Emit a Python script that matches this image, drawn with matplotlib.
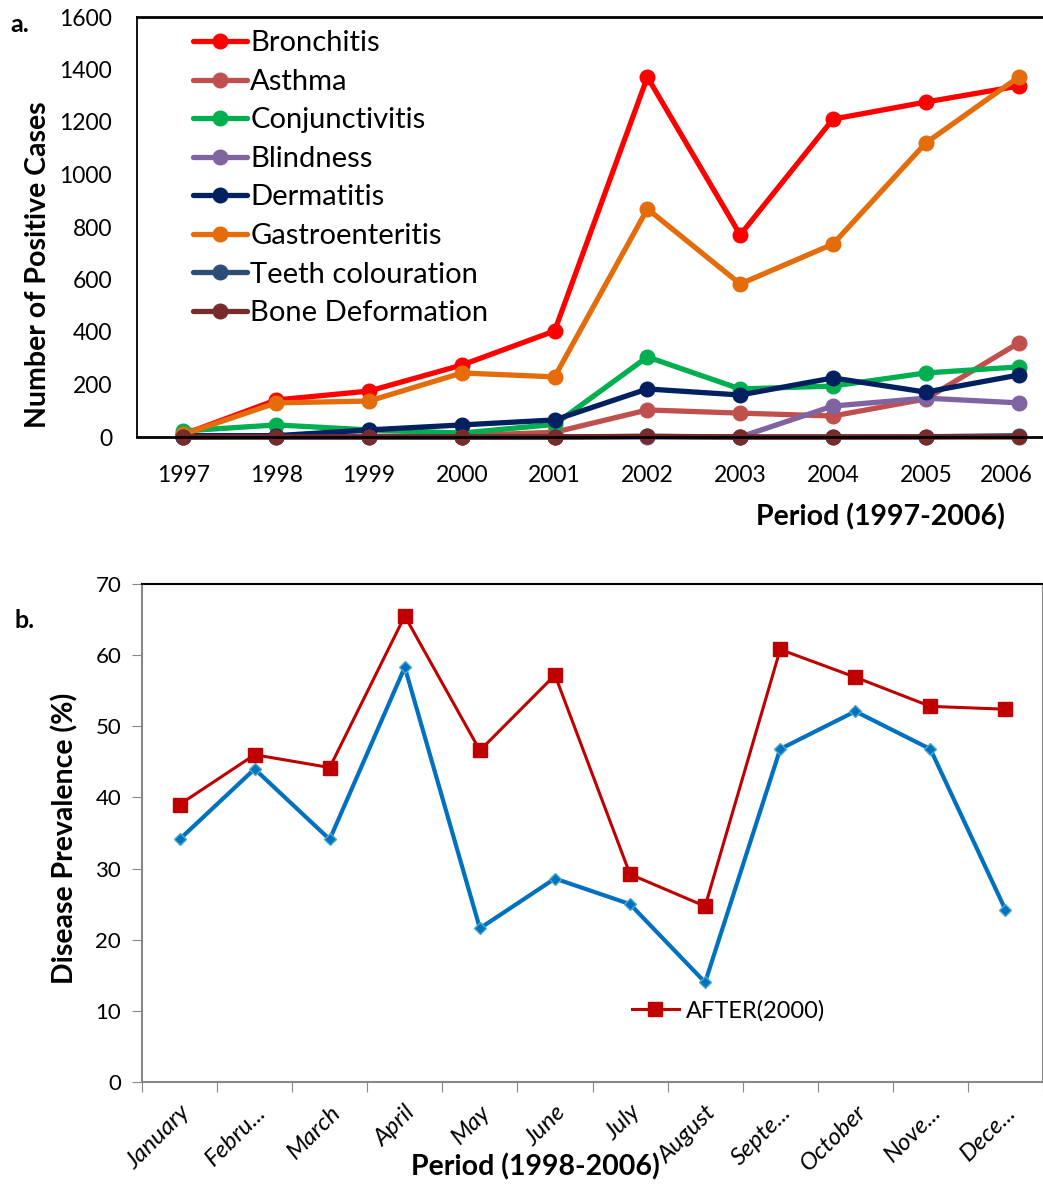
import matplotlib
matplotlib.use('Agg')
from matplotlib import pyplot as plt
from matplotlib.transforms import ScaledTranslation

plt.rcParams['font.family'] = ['Lato', 'DejaVu Sans']

# panel a: yearly positive cases per disease
years = ['1997', '1998', '1999', '2000', '2001', '2002', '2003', '2004', '2005', '2006']
diseases = ['Bronchitis', 'Asthma', 'Conjunctivitis', 'Blindness', 'Dermatitis',
            'Gastroenteritis', 'Teeth colouration', 'Bone Deformation']
bronchitis = [10, 141, 175, 274, 404, 1371, 770, 1211, 1276, 1337]
asthma = [2, 3, 3, 5, 18, 103, 91, 80, 145, 358]
conjunctivitis = [23, 46, 27, 15, 48, 305, 183, 194, 244, 267]
blindness = [0, 5, 2, 0, 0, 0, 0, 118, 148, 130]
dermatitis = [5, 5, 27, 46, 65, 183, 160, 225, 171, 236]
gastroenteritis = [10, 130, 137, 244, 229, 869, 583, 735, 1120, 1371]
teeth = [0, 0, 0, 0, 0, 2, 0, 0, 1, 5]
bone = [0, 0, 0, 0, 0, 3, 0, 0, 0, 0]
colors_a = ['#FF0000', '#C0504D', '#00B050', '#8064A2', '#002060',
            '#E46C0A', '#2C4D75', '#772C2A']

# panel b: monthly prevalence (%)
months = ['January', 'Febru...', 'March', 'April', 'May', 'June', 'July',
          'August', 'Septe...', 'October', 'Nove...', 'Dece...']
before_2000 = [34.1, 44.0, 34.1, 58.3, 21.6, 28.6, 25.0, 14.0, 46.8, 52.1, 46.8, 24.2]
after_2000 = [39.0, 46.0, 44.2, 65.5, 46.6, 57.2, 29.2, 24.7, 60.8, 56.9, 52.8, 52.4]

W, H = 1043, 1184
fig = plt.figure(figsize=(W / 100, H / 100), dpi=100)

def box(l, t, r, b):
    return [l / W, 1 - b / H, (r - l) / W, (b - t) / H]

# ---- panel a ----
ax1 = fig.add_axes(box(137, 17, 1065, 437))
series = [bronchitis, asthma, conjunctivitis, blindness, dermatitis,
          gastroenteritis, teeth, bone]
x1 = list(range(len(years)))
for name, vals, c in zip(diseases, series, colors_a):
    ax1.plot(x1, vals, color=c, lw=3.8, marker='o', ms=10.5, label=name,
             solid_capstyle='round', clip_on=False)
ax1.set_xlim(-0.5, 9.5)
ax1.set_ylim(0, 1600)
ax1.set_yticks(range(0, 1601, 200))
ax1.set_xticks(x1)
ax1.set_xticklabels(years)
ax1.tick_params(axis='both', length=0, labelsize=16.5, colors='black')
ax1.tick_params(axis='y', pad=18)
ax1.tick_params(axis='x', pad=20)
# last year label is pulled in so it stays on the canvas
last = ax1.get_xticklabels()[-1]
last.set_transform(last.get_transform() + ScaledTranslation(-0.12, 0, fig.dpi_scale_trans))
ax1.spines['right'].set_visible(False)
for s in ['top', 'bottom']:
    ax1.spines[s].set_linewidth(2)
ax1.spines['left'].set_linewidth(1.3)
fig.text(38 / W, 1 - 265 / H, 'Number of Positive Cases', fontsize=20.5,
         fontweight='bold', rotation=90, ha='center', va='center')
fig.text(1005 / W, 1 - 517 / H, 'Period (1997-2006)', fontsize=20.5,
         fontweight='bold', ha='right', va='center')
ax1.legend(loc='upper left', bbox_to_anchor=(0.042, 1.01), frameon=False,
           fontsize=21, handlelength=1.85, handletextpad=0.1, labelspacing=0.43,
           borderaxespad=0.2)
fig.text(10 / W, 1 - 25 / H, 'a.', fontsize=18, fontweight='bold', va='center')

# ---- panel b ----
ax2 = fig.add_axes(box(142, 584, 1043, 1082))
x2 = list(range(len(months)))
ax2.plot(x2, before_2000, color='#0070C0', lw=3, marker='D', ms=6,
         mfc='#0070C0', mec='#4BACC6', mew=1)
ax2.plot(x2, after_2000, color='#C00000', lw=2.2, marker='s', ms=10,
         mfc='#C00000', mec='#C00000', label='AFTER(2000)')
ax2.set_xlim(-0.5, 11.5)
ax2.set_ylim(0, 70)
ax2.set_yticks(range(0, 71, 10))
ax2.set_xticks([i - 0.5 for i in range(13)], minor=False)
ax2.set_xticklabels([])
ax2.set_xticks(x2, minor=True)
ax2.set_xticklabels(months, minor=True, rotation=45, ha='right',
                    rotation_mode='anchor', fontstyle='italic', fontsize=17.5)
ax2.tick_params(axis='x', which='major', length=7, color='#888888', direction='out')
ax2.tick_params(axis='x', which='minor', length=0, pad=14)
ax2.tick_params(axis='y', length=7, color='#888888', labelsize=16, pad=8)
for s in ['left', 'bottom', 'right']:
    ax2.spines[s].set_color('#888888')
    ax2.spines[s].set_linewidth(1.5)
ax2.spines['top'].set_color('black')
ax2.spines['top'].set_linewidth(1.5)
fig.text(65 / W, 1 - 838 / H, 'Disease Prevalence (%)', fontsize=20.5,
         fontweight='bold', rotation=90, ha='center', va='center')
fig.text(535 / W, 1 - 1167 / H, 'Period (1998-2006)', fontsize=20.5,
         fontweight='bold', ha='center', va='center')
ax2.legend(loc='center left', bbox_to_anchor=(0.52, 0.143), frameon=False,
           fontsize=17, handlelength=2.0, handletextpad=0.3)
fig.text(15 / W, 1 - 620 / H, 'b.', fontsize=18, fontweight='bold', va='center')

fig.savefig('out.png', dpi=100)
